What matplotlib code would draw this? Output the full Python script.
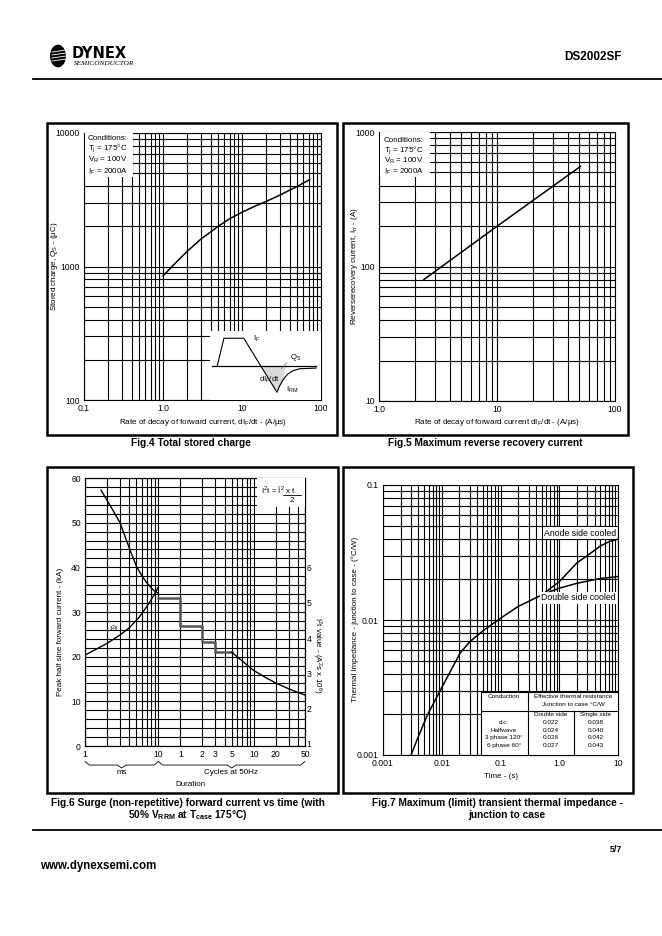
import numpy as np
import matplotlib
matplotlib.use('Agg')
import matplotlib.pyplot as plt
from matplotlib.patches import Rectangle, Circle, Polygon
from matplotlib.lines import Line2D
from matplotlib.ticker import LogLocator, NullFormatter
from matplotlib.transforms import blended_transform_factory

plt.rcParams['font.family'] = ['Liberation Sans', 'DejaVu Sans']
plt.rcParams['mathtext.default'] = 'regular'

# Fig.4 total stored charge
qs_rate = [1, 1.5, 2, 3, 5, 7, 10, 15, 20, 30, 50, 72]
qs_charge = [850, 1090, 1290, 1600, 2000, 2280, 2550, 2850, 3060, 3420, 3980, 4480]

# Fig.5 reverse recovery current
irr_rate = [2.4, 10, 51]
irr_current = [80, 199, 555]

# Fig.6 surge current (time in ms, 1 cycle = 20 ms)
surge_ms = [1.65, 2, 2.5, 3, 4, 5, 6, 7, 8, 9, 10]
surge_ka = [57.3, 55.0, 52.3, 50.0, 44.4, 40.3, 38.0, 36.5, 35.4, 34.6, 34.2]
step_ms = [10, 20, 40, 60, 100]
step_ka = [33.2, 26.8, 23.3, 21.0, 21.0]
cyc_ms = [100, 150, 200, 300, 400, 600, 800, 1000]
cyc_ka = [21.0, 18.6, 16.9, 15.2, 14.1, 12.8, 12.0, 11.4]
i2t_ms = [1, 2, 3, 4, 5.5, 7, 8.5, 10]
i2t_val = [3.52, 3.85, 4.09, 4.29, 4.60, 4.90, 5.18, 5.45]
surge_tick_pos = [1, 10, 20, 40, 60, 100, 200, 400, 1000]
surge_tick_lab = ['1', '10', '1', '2', '3', '5', '10', '20', '50']
surge_minor = [2, 3, 4, 5, 6, 7, 8, 9, 80, 120, 140, 160, 180, 600, 800]

# Fig.7 transient thermal impedance
dbl_t = [0.003, 0.004, 0.0057, 0.0094, 0.0206, 0.03, 0.05, 0.1, 0.2, 0.5, 1, 2, 5, 10]
dbl_z = [0.001, 0.00137, 0.00198, 0.0030, 0.0057, 0.0069, 0.0083, 0.0103, 0.0126,
         0.0153, 0.0172, 0.0187, 0.0203, 0.0210]
anode_t = [0.5, 1, 2, 3, 5, 7, 10]
anode_z = [0.0153, 0.0192, 0.0265, 0.030, 0.0353, 0.038, 0.0397]
cond_names = ['d.c.', 'Halfwave', '3 phase 120°', '6 phase 60°']
rth_double = ['0.022', '0.024', '0.026', '0.027']
rth_single = ['0.038', '0.040', '0.042', '0.043']

W, H = 662, 936
fig = plt.figure(figsize=(W / 100, H / 100), dpi=100)


def rect(l, t, r, b):
    return [l / W, 1 - b / H, (r - l) / W, (b - t) / H]


def ftext(x, y, s, **kw):
    kw.setdefault('va', 'center')
    kw.setdefault('size', 6)
    return fig.text(x / W, 1 - y / H, s, **kw)


def fline(x0, y0, x1, y1, **kw):
    kw.setdefault('color', 'black')
    fig.add_artist(Line2D([x0 / W, x1 / W], [1 - y0 / H, 1 - y1 / H],
                          transform=fig.transFigure, **kw))


def fbox(l, t, r, b, **kw):
    fig.add_artist(Rectangle((l / W, 1 - b / H), (r - l) / W, (b - t) / H,
                             transform=fig.transFigure, **kw))


def loggrid(ax):
    ax.set_xscale('log')
    ax.set_yscale('log')
    for axis in (ax.xaxis, ax.yaxis):
        axis.set_minor_locator(LogLocator(base=10, subs=range(2, 10), numticks=20))
        axis.set_minor_formatter(NullFormatter())
    ax.grid(True, which='both', color='black', lw=0.8)
    ax.set_axisbelow(True)
    ax.tick_params(which='both', length=0, labelsize=6.2, pad=3)


# header
fig.add_artist(Circle((58 / W, 1 - 56 / H), 8 / W, transform=fig.transFigure,
                      facecolor='black', edgecolor='none'))
for yy in (52, 55, 58, 61):
    fline(52, yy, 66, yy - 2, lw=0.6, color='white')
ftext(72, 53, 'DYNEX', size=10.5, weight='bold', family='DejaVu Sans')
ftext(74, 63.5, 'SEMICONDUCTOR', size=5.2, style='italic', family='Liberation Serif')
ftext(622, 57, 'DS2002SF', size=8.5, weight='bold', ha='right')
fline(33, 79, 662, 79, lw=1.3)

# frames
for l, t, r, b in [(47, 123, 337, 435), (343, 123, 628, 435),
                   (47, 467, 338, 793), (343, 467, 633, 793)]:
    fbox(l, t, r, b, facecolor='none', edgecolor='black', lw=1.8)

# ---------------- Fig.4 ----------------
ax4 = fig.add_axes(rect(84, 133, 321, 400))
loggrid(ax4)
ax4.set_xlim(0.1, 100)
ax4.set_ylim(100, 10000)
ax4.set_xticks([0.1, 1, 10, 100], ['0.1', '1.0', '10', '100'])
ax4.set_yticks([100, 1000, 10000], ['100', '1000', '10000'])
ax4.plot(qs_rate, qs_charge, color='black', lw=1.1)
fbox(84.5, 133.5, 133, 177, facecolor='white', edgecolor='none', zorder=1)
for yy, s in zip([138.3, 148.3, 160, 171.7],
                 ['Conditions:', 'T$_j$ = 175°C', 'V$_R$ = 100V', 'I$_F$ = 2000A']):
    ftext(87.5, yy, s, size=5.8)
ftext(55, 266, 'Stored charge, Q$_S$ - (μC)', rotation=90, ha='center', size=5.8)
ftext(203, 422, 'Rate of decay of forward current, dI$_F$/dt - (A/μs)', ha='center', size=5.8)
ftext(191, 443, 'Fig.4 Total stored charge', ha='center', size=7.3, weight='bold')

# inset waveform sketch
ins = fig.add_axes(rect(210, 330.7, 320.5, 399.5))
ins.set_xlim(0, 1)
ins.set_ylim(0, 1)
ins.set_xticks([])
ins.set_yticks([])
for sp in ins.spines.values():
    sp.set_visible(False)
wave_x = [0.066, 0.126, 0.306, 0.606, 0.631, 0.667, 0.703, 0.750, 0.811, 0.961]
wave_y = [0.49, 0.89, 0.89, 0.105, 0.20, 0.30, 0.368, 0.418, 0.447, 0.457]
ins.add_patch(Polygon([(0.459, 0.49), (0.606, 0.105), (0.631, 0.20), (0.667, 0.30),
                       (0.69, 0.49)], facecolor='#d9d9d9', edgecolor='none'))
ins.plot([0.018, 0.96], [0.49, 0.49], color='black', lw=0.9)
ins.plot(wave_x, wave_y, color='black', lw=0.8)
ins.plot([0.646, 0.696], [0.443, 0.538], color='#777', lw=0.5)
ins.text(0.39, 0.88, 'I$_F$', size=5.5, va='center')
ins.text(0.72, 0.61, 'Q$_S$', size=5.5, va='center')
ins.text(0.54, 0.28, 'dI$_F$/dt', size=5.5, va='center', ha='center')
ins.text(0.69, 0.14, 'I$_{RM}$', size=5.5, va='center')

# ---------------- Fig.5 ----------------
ax5 = fig.add_axes(rect(379, 132, 615, 401))
loggrid(ax5)
ax5.set_xlim(1, 100)
ax5.set_ylim(10, 1000)
ax5.set_xticks([1, 10, 100], ['1.0', '10', '100'])
ax5.set_yticks([10, 100, 1000], ['10', '100', '1000'])
ax5.plot(irr_rate, irr_current, color='black', lw=1.1)
fbox(379.5, 132.5, 430, 177, facecolor='white', edgecolor='none', zorder=1)
for yy, s in zip([140, 150.5, 160.7, 171.7],
                 ['Conditions:', 'T$_j$ = 175°C', 'V$_R$ = 100V', 'I$_F$ = 2000A']):
    ftext(384, yy, s, size=5.8)
ftext(355, 266, 'Reverserecovery current, I$_{rr}$ - (A)', rotation=90, ha='center', size=5.8)
ftext(497, 422, 'Rate of decay of forward current dI$_F$/dt - (A/μs)', ha='center', size=5.8)
ftext(485, 443, 'Fig.5 Maximum reverse recovery current', ha='center', size=7.3, weight='bold')

# ---------------- Fig.6 ----------------
ax6 = fig.add_axes(rect(85, 478, 305, 746))
ax6.set_xscale('log')
ax6.set_xlim(1, 1000)
ax6.set_ylim(0, 60)
ax6.set_xticks(surge_tick_pos, surge_tick_lab)
ax6.set_xticks(surge_minor, minor=True)
ax6.xaxis.set_minor_formatter(NullFormatter())
ax6.set_yticks(range(0, 61, 10))
ax6.set_yticks(range(0, 61, 2), minor=True)
ax6.grid(True, which='both', color='black', lw=0.8)
ax6.set_axisbelow(True)
ax6.tick_params(which='both', length=0, labelsize=6.2, pad=3)
ax6.plot(surge_ms, surge_ka, color='black', lw=1.0)
ax6.step(step_ms, step_ka, where='post', color='#555555', lw=1.8)
ax6.plot(cyc_ms, cyc_ka, color='black', lw=1.0)
ax6r = ax6.twinx()
ax6r.set_ylim(0.943, 8.54)
ax6r.set_yticks(range(1, 7))
ax6r.tick_params(length=0, labelsize=6.2, pad=1)
ax6r.plot(i2t_ms, i2t_val, color='black', lw=1.0)

tr = blended_transform_factory(ax6.transData, ax6.transAxes)
for a, b in [(1, 10), (10, 1000)]:
    la, lb = np.log10(a), np.log10(b)
    lm, d = (la + lb) / 2, 0.06
    xs = 10 ** np.array([la, la + d, lm - d, lm, lm + d, lb - d, lb])
    ys = [-0.058, -0.071, -0.071, -0.082, -0.071, -0.071, -0.058]
    ax6.plot(xs, ys, color='black', lw=0.6, transform=tr, clip_on=False)

fbox(257, 478.5, 304.5, 507, facecolor='white', edgecolor='none', zorder=1)
ftext(261, 489.5, 'I$^2$t = Î$^2$ x t', size=5.8)
fline(283, 494.5, 301, 494.5, lw=0.6)
ftext(292, 500, '2', size=5.8, ha='center')
ftext(114, 629, 'I$^2$t', size=5.8, ha='center')
ftext(122, 773, 'ms', size=5.8, ha='center')
ftext(231, 773, 'Cycles at 50Hz', size=5.8, ha='center')
ftext(190, 784, 'Duration', size=5.8, ha='center')
ftext(61, 632, 'Peak half sine forward current - (kA)', rotation=90, ha='center', size=5.8)
ftext(317, 655, 'I$^2$t value - (A$^2$s x 10$^6$)', rotation=270, ha='center', size=5.8)
ftext(188, 803, 'Fig.6 Surge (non-repetitive) forward current vs time (with',
      ha='center', size=7.3, weight='bold')
ftext(188, 815, '50% V$_{RRM}$ at T$_{case}$ 175°C)', ha='center', size=7.3, weight='bold')

# ---------------- Fig.7 ----------------
ax7 = fig.add_axes(rect(383, 485, 618, 755))
loggrid(ax7)
ax7.set_xlim(0.001, 10)
ax7.set_ylim(0.001, 0.1)
ax7.set_xticks([0.001, 0.01, 0.1, 1, 10], ['0.001', '0.01', '0.1', '1.0', '10'])
ax7.set_yticks([0.001, 0.01, 0.1], ['0.001', '0.01', '0.1'])
ax7.plot(dbl_t, dbl_z, color='black', lw=1.1)
ax7.plot(anode_t, anode_z, color='black', lw=1.1)
lab_box = dict(facecolor='white', edgecolor='none', pad=0.8)
ftext(616, 533, 'Anode side cooled', ha='right', size=6.3, bbox=lab_box)
ftext(616, 598, 'Double side cooled', ha='right', size=6.3, bbox=lab_box)

fbox(480.5, 691.5, 618, 755, facecolor='white', edgecolor='black', lw=0.8, zorder=1)
fline(480.5, 710.5, 618, 710.5, lw=0.8)
fline(528, 691.5, 528, 755, lw=0.8)
fline(573.5, 710.5, 573.5, 755, lw=0.8)
ftext(504, 697, 'Conduction', ha='center', size=4.6)
ftext(573, 696, 'Effective thermal resistance', ha='center', size=4.6)
ftext(573, 704.5, 'Junction to case °C/W', ha='center', size=4.6)
ftext(551, 714.5, 'Double side', ha='center', size=4.6)
ftext(596, 714.5, 'Single side', ha='center', size=4.6)
for k, yy in enumerate([722.3, 730, 737.7, 745.5]):
    ftext(504, yy, cond_names[k], ha='center', size=4.6)
    ftext(551, yy, rth_double[k], ha='center', size=4.6)
    ftext(596, yy, rth_single[k], ha='center', size=4.6)
ftext(355, 619, 'Thermal Impedance - junction to case - (°C/W)', rotation=90, ha='center', size=5.8)
ftext(501, 777, 'Time - (s)', ha='center', size=5.8)
ftext(497, 803, 'Fig.7 Maximum (limit) transient thermal impedance -',
      ha='center', size=7.3, weight='bold')
ftext(507, 815, 'junction to case', ha='center', size=7.3, weight='bold')

# footer
fline(33, 830, 662, 830, lw=1.3)
ftext(622, 849, '5/7', ha='right', size=6.5, weight='bold')
ftext(40, 866, 'www.dynexsemi.com', size=8.3, weight='bold')

fig.savefig('out.png', dpi=100)
